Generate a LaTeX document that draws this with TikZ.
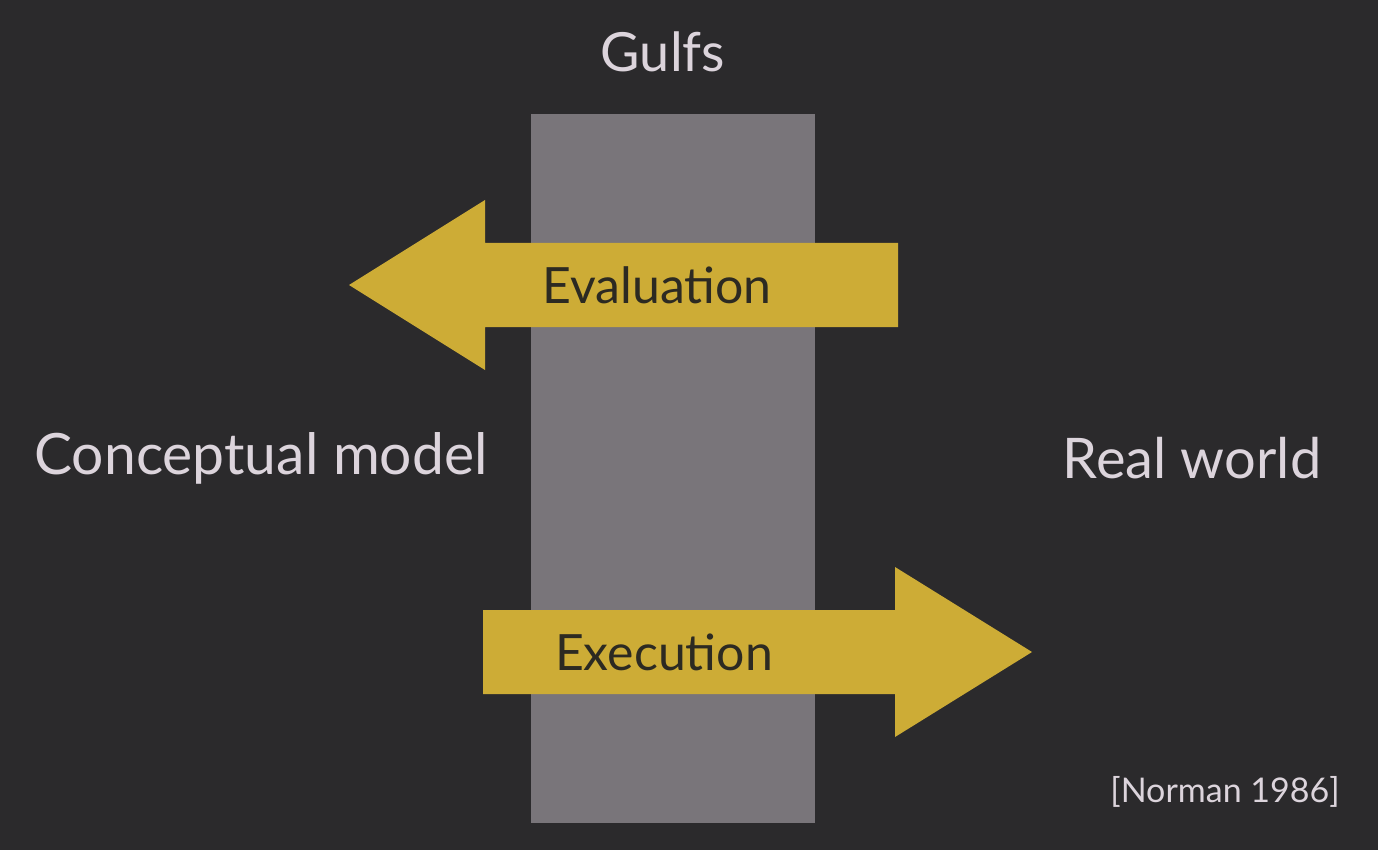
\documentclass[tikz,border=0pt]{standalone}
\usepackage{fontspec}
\setmainfont{Lato}
\usepackage{tikz}

\definecolor{slatebg}{HTML}{2B2A2C}
\definecolor{gulfgray}{HTML}{79757A}
\definecolor{mustard}{HTML}{CDAC36}
\definecolor{paletext}{HTML}{DCD4DC}
\definecolor{inktext}{HTML}{2C2A22}

\begin{document}
\begin{tikzpicture}[x=1pt,y=-1pt]
		\tikzstyle{every node}+=[inner sep=0pt]
		\tikzstyle{bigtext}=[text=paletext,font=\fontsize{56}{62}\selectfont]
		\tikzstyle{armtext}=[text=inktext,font=\fontsize{50}{56}\selectfont]
		\fill [slatebg] (0,0) rectangle (1378,850);
		\useasboundingbox (0,0) rectangle (1378,850);
		\fill [gulfgray] (531,114) rectangle (815,823);
		\fill [mustard] (898,243) -- (485,243) -- (485,200) -- (349,285) -- (485,370) -- (485,327) -- (898,327) -- cycle;
		\fill [mustard] (483,610) -- (895,610) -- (895,567) -- (1032,652) -- (895,737) -- (895,694) -- (483,694) -- cycle;
		\node [bigtext,font=\fontsize{54}{60}\selectfont] (gulfs) at (663,52) {Gulfs};
		\node [armtext] (eval) at (657,285) {Evaluation};
		\node [armtext] (exec) at (664,652) {Execution};
		\node [bigtext,font=\fontsize{57}{62}\selectfont] (concept) at (261,458) {Conceptual model};
		\node [bigtext] (real) at (1192,458) {Real world};
		\node [text=paletext,font=\fontsize{34}{40}\selectfont] (cite) at (1225,792) {[Norman 1986]};
\end{tikzpicture}
\end{document}
